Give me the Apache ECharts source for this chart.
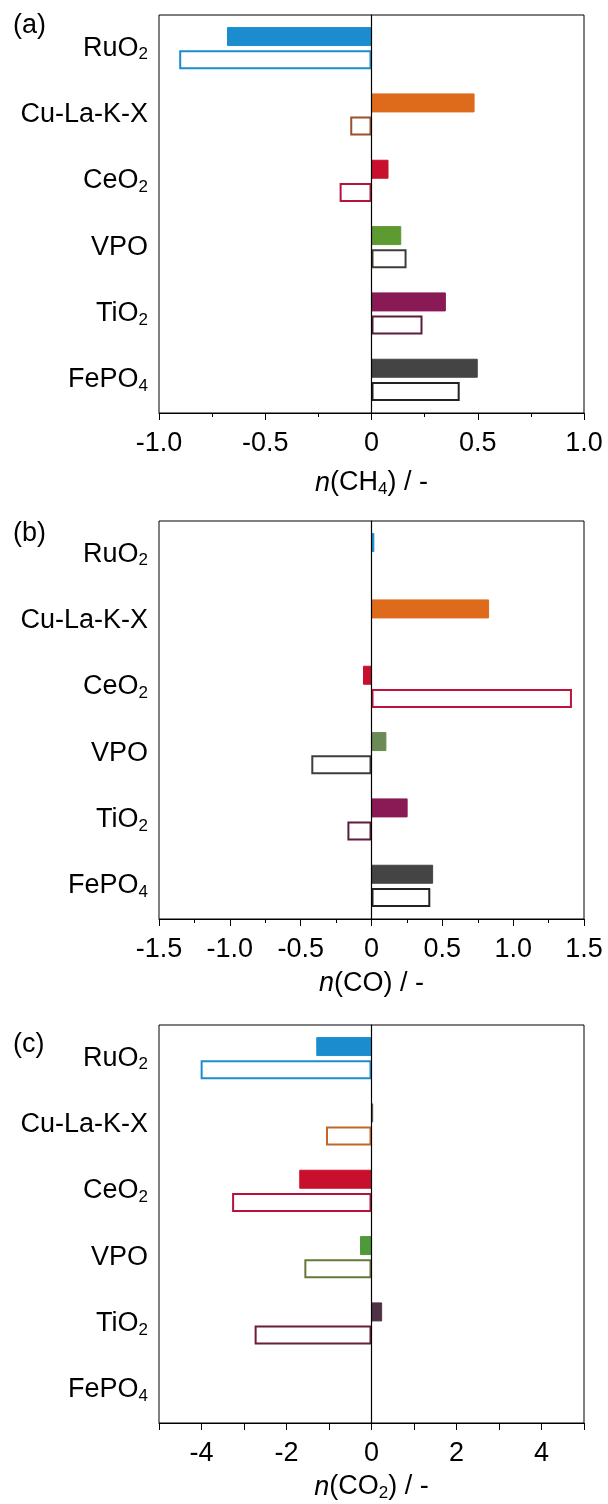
<!DOCTYPE html>
<html>
<head>
<meta charset="utf-8">
<script src="https://cdn.jsdelivr.net/npm/echarts@6/dist/echarts.min.js"></script>
<style>
  html, body { margin: 0; padding: 0; background: #fff; }
  #chart { width: 608px; height: 1504px; }
</style>
</head>
<body>
<div id="chart"></div>
<script>
// Catalysts, listed top to bottom
const categories = ['RuO2', 'Cu-La-K-X', 'CeO2', 'VPO', 'TiO2', 'FePO4'];
// Rich-text versions of the catalyst names (subscripts)
const categoryLabels = ['RuO{s|2}', 'Cu-La-K-X', 'CeO{s|2}', 'VPO', 'TiO{s|2}', 'FePO{s|4}'];

// (a) n(CH4): solid bars and open bars
const ch4Solid = [-0.68, 0.485, 0.08, 0.14, 0.35, 0.50];
const ch4Open  = [-0.905, -0.10, -0.15, 0.165, 0.24, 0.415];

// (b) n(CO)
const coSolid = [0.02, 0.83, -0.06, 0.105, 0.255, 0.435];
const coOpen  = [null, null, 1.415, -0.425, -0.17, 0.415];

// (c) n(CO2)
const co2Solid = [-1.30, 0.04, -1.70, -0.27, 0.25, null];
const co2Open  = [-4.02, -1.07, -3.28, -1.58, -2.75, null];

// Bottom-axis tick settings per panel
const axisMin = [-1, -1.5, -5];
const axisMax = [1, 1.5, 5];
const axisStep = [0.5, 0.5, 1];

// Catalyst colours per panel: solid fills and open-bar outlines
const fillColors = [
  ['#1b8dcf', '#de6a1c', '#c8102e', '#5e9a32', '#8a1a56', '#444444'],
  ['#1b8dcf', '#de6a1c', '#c8102e', '#6b8a55', '#8a1a56', '#444444'],
  ['#1b8dcf', '#6a5a50', '#c8102e', '#4e9a3a', '#4e3244', '#444444']
];
const edgeColors = [
  ['#1b8dcf', '#9a5028', '#b5123c', '#3e3e38', '#5a1d3c', '#222222'],
  ['#1b8dcf', '#9a5028', '#c0123c', '#3e3e38', '#5a1d3c', '#222222'],
  ['#1b8dcf', '#c0662c', '#b5123c', '#66773a', '#6a1d3c', '#222222']
];

const FONT = 'Liberation Sans, Arial, sans-serif';
const FS = 27;

const subRich = {
  s: { fontSize: 17, fontFamily: FONT, color: '#000', padding: [13, 0, 0, 0] },
  i: { fontSize: FS, fontFamily: FONT, color: '#000', fontStyle: 'italic' }
};

const gridTops = [15, 521, 1025];
const gridHeight = 398;
const nameGaps = [55, 51, 49];
const tagTops = [12, 520, 1031];
const axisNames = ['{i|n}(CH{s|4}) / -', '{i|n}(CO) / -', '{i|n}(CO{s|2}) / -'];
const panelTags = ['(a)', '(b)', '(c)'];
const solidSets = [ch4Solid, coSolid, co2Solid];
const openSets = [ch4Open, coOpen, co2Open];

function fmtTick(panel, v) {
  if (panel === 2) return (Math.round(v) % 2 === 0) ? String(Math.round(v)) : '';
  if (Math.abs(v) < 1e-9) return '0';
  return v.toFixed(1);
}

const grids = [], xAxes = [], yAxes = [], series = [], graphics = [];

for (let p = 0; p < 3; p++) {
  grids.push({
    left: 159, right: 24, top: gridTops[p], height: gridHeight,
    show: true, borderColor: '#000', borderWidth: 1, backgroundColor: 'transparent'
  });
  xAxes.push({
    type: 'value', gridIndex: p,
    min: axisMin[p], max: axisMax[p], interval: axisStep[p],
    name: axisNames[p], nameLocation: 'middle', nameGap: nameGaps[p],
    nameTextStyle: { fontSize: FS, fontFamily: FONT, color: '#000', rich: subRich },
    axisLine: { show: true, onZero: false, lineStyle: { color: '#000', width: 1 } },
    axisTick: { show: true, inside: false, length: 7, lineStyle: { color: '#000' } },
    minorTick: { show: p < 2, splitNumber: 2, length: 4, lineStyle: { color: '#000' } },
    splitLine: { show: false },
    axisLabel: {
      show: true, fontSize: FS, fontFamily: FONT, color: '#000', margin: 17,
      showMinLabel: true, showMaxLabel: true,
      formatter: (v) => fmtTick(p, v)
    }
  });
  yAxes.push({
    type: 'category', gridIndex: p, inverse: true, data: categories,
    axisLine: { show: true, lineStyle: { color: '#000', width: 1 } },
    axisTick: { show: false },
    splitLine: { show: false },
    axisLabel: {
      fontSize: FS, fontFamily: FONT, color: '#000', margin: 11,
      formatter: (v, idx) => categoryLabels[idx],
      rich: subRich
    }
  });

  series.push({
    type: 'bar', xAxisIndex: p, yAxisIndex: p,
    barWidth: 19, barGap: '22%',
    data: solidSets[p].map((v, i) => ({
      value: v,
      itemStyle: { color: fillColors[p][i], borderColor: fillColors[p][i], borderWidth: 1 }
    })),
    markLine: {
      silent: true, symbol: 'none', label: { show: false },
      lineStyle: { color: '#000', width: 1.2, type: 'solid' },
      data: [{ xAxis: 0 }],
      animation: false
    },
    animation: false
  });
  series.push({
    type: 'bar', xAxisIndex: p, yAxisIndex: p,
    barWidth: 19, barGap: '22%',
    data: openSets[p].map((v, i) => ({
      value: v,
      itemStyle: { color: '#fff', borderColor: edgeColors[p][i], borderWidth: 2 }
    })),
    animation: false
  });

  graphics.push({
    type: 'text', left: 13, top: tagTops[p],
    style: { text: panelTags[p], fontSize: FS, fontFamily: FONT, fill: '#000' }
  });
}

const chart = echarts.init(document.getElementById('chart'), null, { renderer: 'canvas' });
chart.setOption({
  backgroundColor: '#fff',
  animation: false,
  grid: grids,
  xAxis: xAxes,
  yAxis: yAxes,
  series: series,
  graphic: graphics
});
</script>
</body>
</html>
